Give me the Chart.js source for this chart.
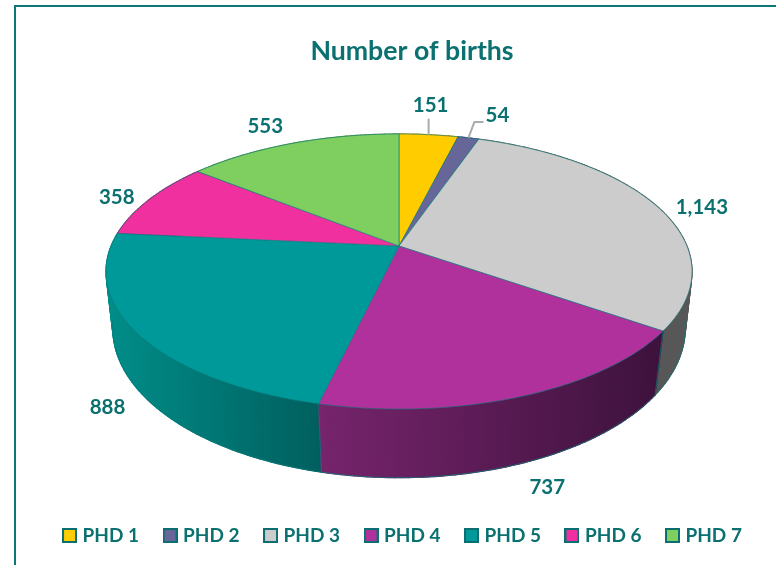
<!DOCTYPE html>
<html>
<head>
<meta charset="utf-8">
<style>html,body{margin:0;padding:0;background:#fff}canvas{display:block}</style>
<script src="https://cdn.jsdelivr.net/npm/chart.js@4/dist/chart.umd.min.js"></script>
</head>
<body>
<canvas id="c" width="776" height="565"></canvas>
<script>
const categories = ['PHD 1','PHD 2','PHD 3','PHD 4','PHD 5','PHD 6','PHD 7'];
const births = [151,54,1143,737,888,358,553];
const chartTitle = 'Number of births';

const sliceColors = ['#FFCC00','#666699','#CCCCCC','#B0309C','#009999','#F0309E','#7FCF60'];
const wallFrom = ['#B89400','#4A4A70','#575757','#76246C','#008C88','#A82070','#5A9A44'];
const wallTo   = ['#B89400','#4A4A70','#575757','#3E123D','#005F5E','#A82070','#5A9A44'];
const labelOffsets = [[2,-29],[29,-23],[44,0],[24,91],[-29,75],[-33,-2],[-27,-17]];
const ink = '#0A7070', rim = 'rgba(10,120,120,0.75)';

// perspective projection of the pie disc: top face and bottom face
const topFace = {cx:399, cy:246, a:287.9, b:132.8, k:0.1855};
const baseFace = {cx:399, cy:303, a:282, b:145, k:0.17};
function project(f, t){
  const x = Math.sin(t), y = -Math.cos(t), d = 1 - f.k*y;
  return [f.cx + f.a*x/d, f.cy + f.b*y/d];
}
const toTheta = a => a + Math.PI/2;

const pie3d = {
  id:'pie3d',
  beforeDraw(chart){
    const c = chart.ctx;
    c.save();
    c.fillStyle = '#0F7877';
    c.fillRect(14,5,762,2);
    c.fillRect(14,5,2,560);
    c.restore();
  },
  afterLayout(chart){
    chart.titleBlock.left += 13; chart.titleBlock.right += 13;
    chart.legend.left += 5; chart.legend.right += 5;
  },
  beforeDatasetsDraw(chart){
    const c = chart.ctx, arcs = chart.getDatasetMeta(0).data;
    c.save();
    c.lineJoin = 'round';
    // side walls, back to front
    const quads = [];
    arcs.forEach((arc,i)=>{
      const s = toTheta(arc.startAngle), e = toTheta(arc.endAngle);
      const n = Math.max(2, Math.ceil((e-s)/0.02));
      const xs = [];
      for(let j=0;j<=n;j++){ xs.push(project(baseFace, s+(e-s)*j/n)[0]); }
      const g = c.createLinearGradient(Math.min(...xs),0,Math.max(...xs)+0.01,0);
      g.addColorStop(0, wallFrom[i]); g.addColorStop(1, wallTo[i]);
      for(let j=0;j<n;j++){
        const t0 = s+(e-s)*j/n, t1 = s+(e-s)*(j+1)/n;
        const p = [project(topFace,t0),project(topFace,t1),project(baseFace,t1),project(baseFace,t0)];
        quads.push({p, g, depth:-Math.cos((t0+t1)/2)});
      }
    });
    quads.sort((a,b)=>a.depth-b.depth);
    quads.forEach(q=>{
      c.beginPath();
      q.p.forEach((pt,j)=> j?c.lineTo(pt[0],pt[1]):c.moveTo(pt[0],pt[1]));
      c.closePath();
      c.fillStyle = q.g; c.strokeStyle = q.g; c.lineWidth = 1.3;
      c.fill(); c.stroke();
    });
    // base rim and front wall edges
    c.strokeStyle = rim; c.lineWidth = 1;
    c.beginPath();
    for(let j=0;j<=200;j++){
      const t = Math.PI/2 + 0.12 + (Math.PI-0.24)*j/200, pt = project(baseFace,t);
      j?c.lineTo(pt[0],pt[1]):c.moveTo(pt[0],pt[1]);
    }
    c.stroke();
    arcs.forEach(arc=>{
      const t = toTheta(arc.startAngle);
      if(Math.cos(t) < -0.2){
        const a = project(topFace,t), b = project(baseFace,t);
        c.beginPath(); c.moveTo(a[0],a[1]); c.lineTo(b[0],b[1]); c.stroke();
      }
    });
    // top face
    arcs.forEach((arc,i)=>{
      const s = toTheta(arc.startAngle), e = toTheta(arc.endAngle);
      const n = Math.max(2, Math.ceil((e-s)/0.01));
      c.beginPath();
      c.moveTo(topFace.cx, topFace.cy);
      for(let j=0;j<=n;j++){ const pt = project(topFace, s+(e-s)*j/n); c.lineTo(pt[0],pt[1]); }
      c.closePath();
      c.fillStyle = sliceColors[i];
      c.fill();
      c.strokeStyle = rim; c.lineWidth = 0.8;
      c.stroke();
    });
    // leader lines and value labels
    c.font = 'bold 20.5px Lato';
    c.textAlign = 'center'; c.textBaseline = 'middle';
    arcs.forEach((arc,i)=>{
      const mid = project(topFace, toTheta((arc.startAngle+arc.endAngle)/2));
      const lx = mid[0]+labelOffsets[i][0], ly = mid[1]+labelOffsets[i][1];
      if(i<2){
        c.strokeStyle = '#ABABAB'; c.lineWidth = 2;
        c.beginPath(); c.moveTo(mid[0],mid[1]);
        if(i===0){ c.lineTo(mid[0], ly+13); }
        else { c.lineTo(mid[0]+6, ly+7); c.lineTo(lx-14, ly+7); }
        c.stroke();
      }
      c.fillStyle = ink;
      c.fillText(births[i].toLocaleString('en-US'), lx, ly);
    });
    c.restore();
    return false;
  }
};

function legendSwatch(color){
  const cv = document.createElement('canvas');
  cv.width = 15; cv.height = 15;
  const g = cv.getContext('2d');
  g.fillStyle = color; g.fillRect(1,1,13,13);
  g.strokeStyle = '#0B6E70'; g.lineWidth = 2; g.strokeRect(1,1,13,13);
  return cv;
}

new Chart(document.getElementById('c'),{
  type:'pie',
  data:{labels:categories,datasets:[{data:births,backgroundColor:sliceColors,borderColor:ink,borderWidth:0.8}]},
  plugins:[pie3d],
  options:{
    responsive:false,
    animation:false,
    layout:{padding:{left:22,right:0,top:35,bottom:10}},
    plugins:{
      tooltip:{enabled:false},
      title:{display:true,text:chartTitle,color:ink,font:{family:'Lato',size:26.7,weight:'bold'},padding:{top:0,bottom:0}},
      legend:{
        position:'bottom',
        labels:{
          usePointStyle:true,boxWidth:7,padding:27.5,color:ink,
          font:{family:'Lato',size:19,weight:'bold'},
          generateLabels(chart){
            return Chart.overrides.doughnut.plugins.legend.labels.generateLabels(chart)
              .map((it,i)=>Object.assign(it,{pointStyle:legendSwatch(sliceColors[i])}));
          }
        }
      }
    }
  }
});
</script>
</body>
</html>
